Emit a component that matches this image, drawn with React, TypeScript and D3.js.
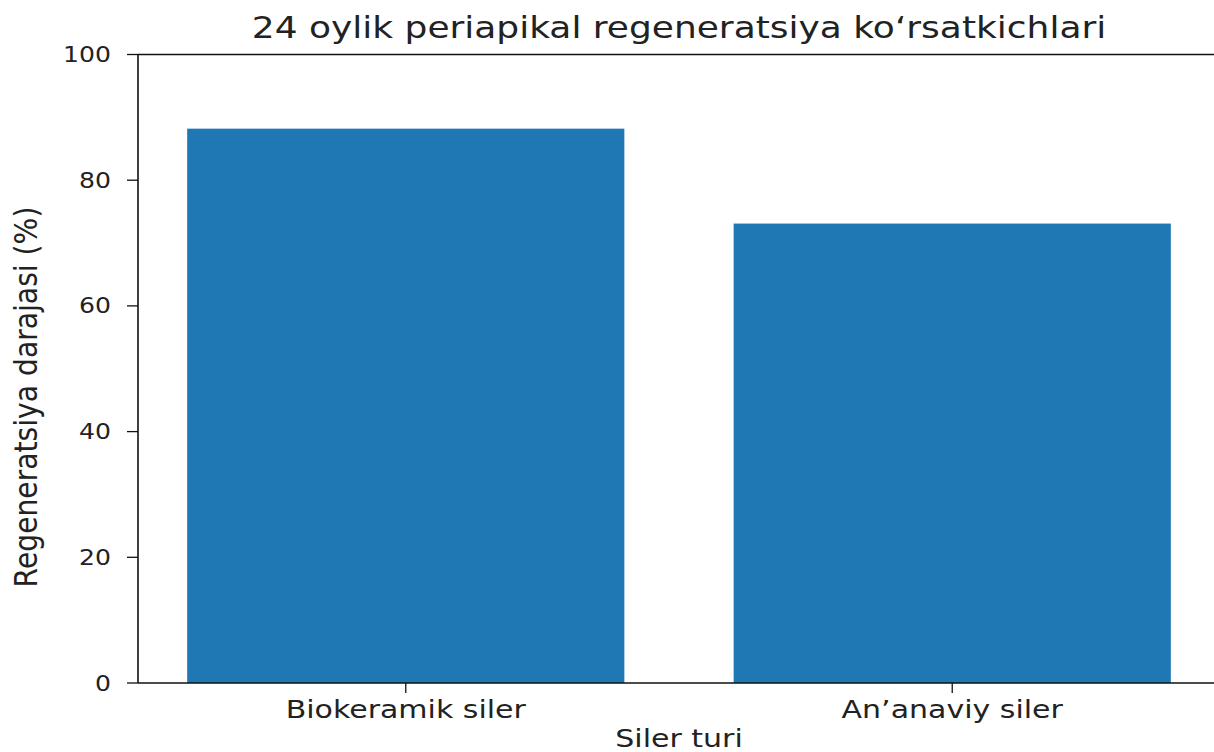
import React, { useEffect, useRef } from 'react';
import * as d3 from 'd3';

const categories = ['Biokeramik siler', 'An\u2019anaviy siler'];
const values = [88.2, 73.1];
const yTicks = [0, 20, 40, 60, 80, 100];
const title = '24 oylik periapikal regeneratsiya ko\u2018rsatkichlari';
const xLabel = 'Siler turi';
const yLabel = 'Regeneratsiya darajasi (%)';

// the reference picture is stretched sideways, so text glyphs are widened too
const SX = 1.22;

export default function App() {
  const ref = useRef<SVGSVGElement>(null);

  useEffect(() => {
    const totalWidth = 1214;
    const totalHeight = 752;
    const left = 138;
    const right = 1220;
    const top = 54.5;
    const bottom = 683;

    const svg = d3.select(ref.current)
      .attr('width', totalWidth)
      .attr('height', totalHeight);
    svg.selectAll('*').remove();

    const font = 'DejaVu Sans';

    const xScale = d3.scaleLinear()
      .domain([-0.49, categories.length - 1 + 0.49])
      .range([left, right]);

    const yScale = d3.scaleLinear()
      .domain([0, 100])
      .range([bottom, top]);

    const barW = 0.8;

    svg.append('rect')
      .attr('width', totalWidth)
      .attr('height', totalHeight)
      .style('fill', '#fff');

    svg.selectAll('rect.bar')
      .data(values)
      .enter().append('rect')
      .attr('class', 'bar')
      .attr('x', (d, i) => xScale(i - barW / 2))
      .attr('y', d => yScale(d))
      .attr('width', xScale(barW) - xScale(0))
      .attr('height', d => yScale(0) - yScale(d))
      .style('fill', '#1f77b4');

    // spines
    svg.append('line')
      .attr('x1', left).attr('x2', left)
      .attr('y1', top).attr('y2', bottom)
      .style('stroke', '#111').style('stroke-width', 1.6);
    svg.append('line')
      .attr('x1', left).attr('x2', right)
      .attr('y1', top).attr('y2', top)
      .style('stroke', '#111').style('stroke-width', 1.6);
    svg.append('line')
      .attr('x1', left).attr('x2', right)
      .attr('y1', bottom).attr('y2', bottom)
      .style('stroke', '#111').style('stroke-width', 1.6);

    // y ticks
    const yt = svg.append('g');
    yTicks.forEach(t => {
      yt.append('line')
        .attr('x1', left - 11).attr('x2', left)
        .attr('y1', yScale(t)).attr('y2', yScale(t))
        .style('stroke', '#111').style('stroke-width', 1.3);
      yt.append('text')
        .attr('transform', `translate(${left - 27},${yScale(t) + 7.5}) scale(${SX},1)`)
        .attr('text-anchor', 'end')
        .text(t)
        .style('font-family', font)
        .style('font-size', '20.6px')
        .style('fill', '#222');
    });

    // x ticks
    const xt = svg.append('g');
    categories.forEach((c, i) => {
      xt.append('line')
        .attr('x1', xScale(i)).attr('x2', xScale(i))
        .attr('y1', bottom).attr('y2', bottom + 10)
        .style('stroke', '#111').style('stroke-width', 1.3);
      xt.append('text')
        .attr('transform', `translate(${xScale(i)},${bottom + 35}) scale(${SX},1)`)
        .attr('text-anchor', 'middle')
        .text(c)
        .style('font-family', font)
        .style('font-size', '24.6px')
        .style('fill', '#222');
    });

    // title
    svg.append('text')
      .attr('transform', `translate(${(left + right) / 2},38) scale(${SX},1)`)
      .attr('text-anchor', 'middle')
      .text(title)
      .style('font-family', font)
      .style('font-size', '29.5px')
      .style('fill', '#222');

    // X-axis label
    svg.append('text')
      .attr('transform', `translate(${(left + right) / 2},747) scale(${SX},1)`)
      .attr('text-anchor', 'middle')
      .text(xLabel)
      .style('font-family', font)
      .style('font-size', '24.6px')
      .style('fill', '#222');

    // Y-axis label
    svg.append('text')
      .attr('transform', `translate(37,397) scale(1.1,1) rotate(-90)`)
      .attr('text-anchor', 'middle')
      .text(yLabel)
      .style('font-family', font)
      .style('font-size', '28.2px')
      .style('fill', '#222');
  }, []);

  return (
    <div>
      <svg ref={ref} style={{ position: 'absolute', left: 0, top: 0 }} />
    </div>
  );
}
